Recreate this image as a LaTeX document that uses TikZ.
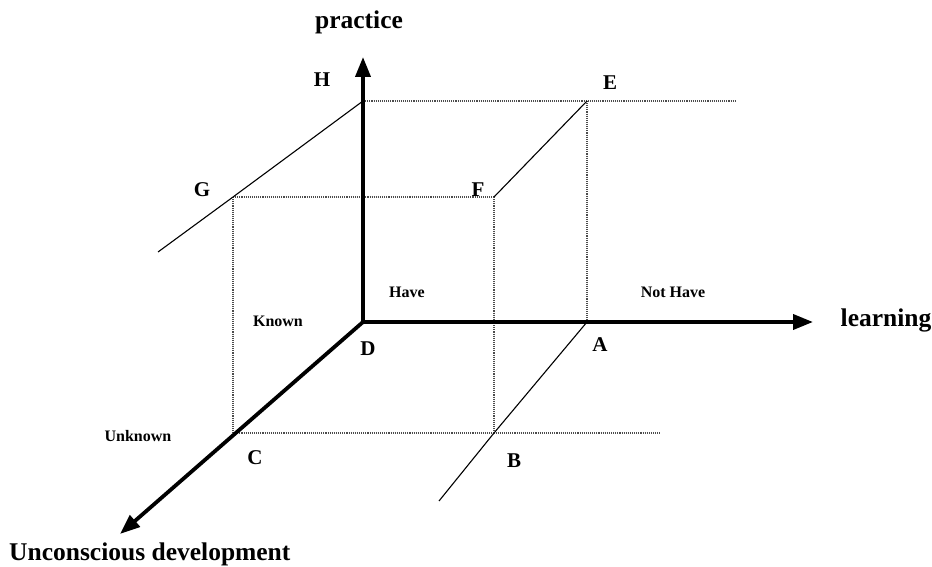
\documentclass[tikz,border=0pt]{standalone}
\usepackage{fontspec}
\setmainfont{Liberation Serif}
\usetikzlibrary{arrows.meta}
\begin{document}
\begin{tikzpicture}[x=1pt,y=-1pt,
  axis/.style={line width=3.8pt,-{Triangle[length=20pt,width=15pt]}},
  guide/.style={densely dotted,line width=1.1pt,black!70},
  edge/.style={line width=1.1pt,black},
  big/.style={font=\fontsize{25.5}{28}\selectfont\bfseries,inner sep=0pt},
  letter/.style={font=\fontsize{21}{23}\selectfont\bfseries,inner sep=0pt},
  small/.style={font=\fontsize{16}{18}\selectfont\bfseries,inner sep=0pt}]
\useasboundingbox (0,0) rectangle (932,567);
% points
\coordinate (D) at (363,322);
\coordinate (H) at (363,101);
\coordinate (E) at (587,101);
\coordinate (F) at (494,197);
\coordinate (G) at (233,197);
\coordinate (A) at (587,322);
\coordinate (B) at (494,433);
\coordinate (C) at (233,433);
\coordinate (Pt) at (363,57);
\coordinate (Lt) at (813,322);
\coordinate (Ut) at (120,534);
\coordinate (Eext) at (736,101);
\coordinate (Gext) at (158,252);
\coordinate (Cext) at (661,433);
\coordinate (Bext) at (439,501);
% dotted guides
\draw[guide] (H) -- (E) -- (Eext);
\draw[guide] (E) -- (A);
\draw[guide] (G) -- (F);
\draw[guide] (F) -- (B);
\draw[guide] (G) -- (C);
\draw[guide] (C) -- (B) -- (Cext);
% thin solid edges
\draw[edge] (H) -- (G) -- (Gext);
\draw[edge] (E) -- (F);
\draw[edge] (A) -- (B) -- (Bext);
% axes
\draw[axis] (D) -- (Pt);
\draw[axis] (D) -- (Lt);
\draw[axis] (D) -- (Ut);
% labels
\node[big] (lp) at (359,22) {practice};
\node[big] (ll) at (886,320) {learning};
\node[big,anchor=west] (lu) at (9,554) {Unconscious development};
\node[letter] (lH) at (322,80) {H};
\node[letter] (lE) at (610,83) {E};
\node[letter] (lG) at (202,190) {G};
\node[letter] (lF) at (478,190) {F};
\node[letter] (lD) at (368,349) {D};
\node[letter] (lA) at (600,345) {A};
\node[letter] (lC) at (255,458) {C};
\node[letter] (lB) at (514,461) {B};
\node[small] (lhave) at (407,292) {Have};
\node[small] (lnhave) at (673,292) {Not Have};
\node[small] (lknown) at (278,321) {Known};
\node[small] (lunk) at (138,436) {Unknown};
\end{tikzpicture}
\end{document}
